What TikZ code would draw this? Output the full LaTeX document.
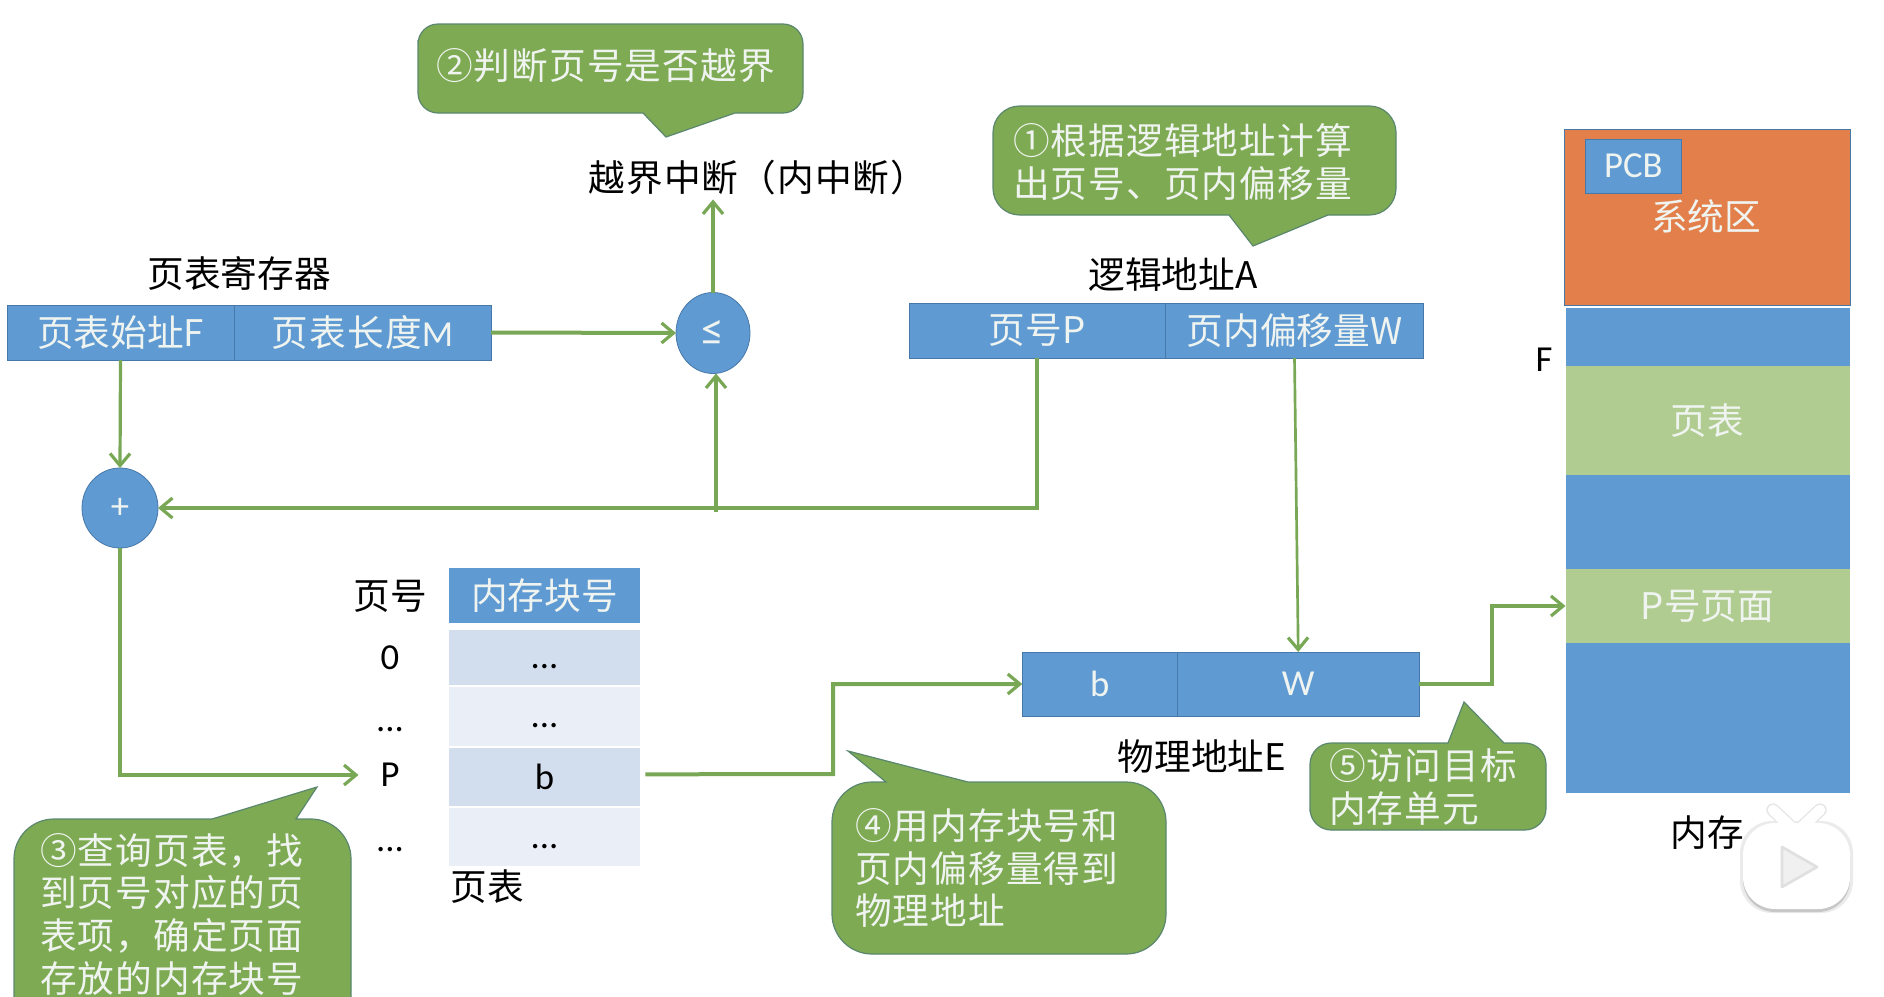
\documentclass[tikz,border=0pt]{standalone}
\usepackage{fontspec}
\setmainfont{Carlito}
\newfontfamily\cjk{Noto Sans CJK SC}
\newfontfamily\cjkwide[LetterSpace=3]{Noto Sans CJK SC}
\usetikzlibrary{arrows.meta,shapes.geometric}

\definecolor{cellblue}{RGB}{95,155,210}
\definecolor{celledge}{RGB}{70,120,170}
\definecolor{flowgreen}{RGB}{120,168,85}
\definecolor{talkgreen}{RGB}{125,170,82}
\definecolor{talkedge}{RGB}{90,135,110}
\definecolor{sysorange}{RGB}{226,127,74}
\definecolor{palegreen}{RGB}{176,204,144}
\definecolor{rowdark}{RGB}{210,222,238}
\definecolor{rowpale}{RGB}{233,238,247}
\definecolor{softwhite}{RGB}{240,244,240}

\tikzset{
  every picture/.style={line width=0.75pt},
  every node/.style={inner sep=0pt,outer sep=0pt,font=\fontsize{27.5}{32}\selectfont},
  cell/.style={draw=celledge,fill=cellblue,text=softwhite,line width=0.6pt},
  memcell/.style={fill=cellblue,text=softwhite,minimum width=213pt},
  memgreen/.style={fill=palegreen,text=softwhite,minimum width=213pt},
  row/.style={minimum width=143.25pt,minimum height=41.5pt},
  dotrow/.style={row,text height=22pt,text depth=5pt},
  op/.style={ellipse,draw=celledge,fill=cellblue,text=softwhite,line width=0.6pt},
  flow/.style={draw=flowgreen,line width=3pt,-{Straight Barb[length=9pt,width=15pt,line width=2.4pt]}},
  talk/.style={draw=talkedge,fill=talkgreen,line width=0.9pt},
  talktext/.style={text=softwhite,align=left,anchor=west},
}

\begin{document}
\begin{tikzpicture}[x=0.75pt,y=0.75pt,yscale=-1]
\useasboundingbox (0,0) rectangle (1884,996);
\clip (0,0) rectangle (1884,996);

% page table register
\node (regF) [cell,minimum width=170.25pt,minimum height=41.25pt] at (120.5,332.5) {\cjk 页表始址F};
\node (regM) [cell,minimum width=192.75pt,minimum height=41.25pt] at (362.5,332.5) {\cjkwide 页表长度\rmfamily M};
\node (regname) at (239,274) {\cjk 页表寄存器};

% comparator and adder
\node (cmp) [op,minimum width=55.5pt,minimum height=60.75pt,font=\fontsize{34}{36}\selectfont] at (713,333) {≤};
\node (adder) [op,minimum width=57pt,minimum height=60pt] at (120,508) {+};
\node (oob) at (758,178) {\cjkwide 越界中断（内中断）};

% logical address
\node (pageno) [cell,minimum width=192.4pt,minimum height=41.25pt] at (1037.25,330.5) {\cjk 页号P};
\node (offw) [cell,minimum width=193.5pt,minimum height=41.25pt] at (1294.5,330.5) {\cjk 页内偏移量W};
\node (logname) at (1173,275) {\cjk 逻辑地址A};

% page table
\node (colno) at (390,596) {\cjk 页号};
\node (colhead) [fill=cellblue,text=softwhite,row] at (544.5,595.5) {\cjk 内存块号};
\node (row0) [fill=rowdark,dotrow] at (544.5,657.5) {...};
\node (row1) [fill=rowpale,dotrow,minimum height=44.25pt] at (544.5,716.5) {...};
\node (rowb) [fill=rowdark,row,minimum height=43.5pt] at (544.5,777) {b};
\node (row3) [fill=rowpale,dotrow,minimum height=43.5pt] at (544.5,837) {...};
\node (no0) at (390,658) {0};
\node (no1) at (390,730) {...};
\node (noP) at (390,775) {P};
\node (no3) at (390,850) {...};
\node (tabname) at (487,887) {\cjk 页表};

% physical address
\node (phyb) [cell,minimum width=116.25pt,minimum height=48pt] at (1099.75,684) {b};
\node (phyw) [cell,minimum width=181.5pt,minimum height=48pt] at (1298.25,684) {W};
\node (phyname) at (1202,757) {\cjk 物理地址E};

% memory
\node (memsys) [fill=sysorange,draw=celledge,line width=0.5pt,minimum width=214.5pt,minimum height=132pt] at (1707,217) {};
\node (pcb) [cell,minimum width=72.4pt,minimum height=40.5pt] at (1633.25,166) {PCB};
\node at (1706,216) [text=softwhite] (sysname) {\cjk 系统区};
\node (mem1) [memcell,minimum height=44.25pt] at (1707.5,337) {};
\node (memtab) [memgreen,minimum height=81.75pt] at (1707.5,420.5) {\cjk 页表};
\node (mem2) [memcell,minimum height=70.5pt] at (1707.5,522) {};
\node (memP) [memgreen,minimum height=55.5pt] at (1707.5,606) {\cjk P号页面};
\node (mem3) [memcell,minimum height=112.5pt] at (1707.5,718) {};
\node (memF) at (1544,360) {F};
\node (memname) at (1707,833) {\cjk 内存};

% connectors
\coordinate (tee) at (716,512);
\coordinate (bturn) at (833,774);
\coordinate (outturn) at (1492,684);
\draw [flow] (regM.east) -- (cmp.west);
\draw [flow,shorten >=3pt] (cmp.north) -- (cmp.north |- oob.south);
\draw [flow,line width=2.4pt] (regF.south) -- (adder.north);
\draw [flow] (pageno.south) |- (adder.east);
\draw [flow,line width=2.4pt] (tee) -- (tee |- cmp.south);
\draw [flow,line width=2pt] (offw.south) -- (phyw.north);
\draw [flow,shorten >=16.5pt] (adder.south) |- (noP.west);
\draw [flow] ([xshift=4pt,yshift=-2pt]rowb.east) -- (bturn) |- (phyb.west);
\draw [flow] (phyw.east) -- (outturn) |- (memP.west);

% callouts
\draw [talk] (418,60) [rounded corners=15pt] -- (418,24) -- (803,24) -- (803,113) [sharp corners] -- (735,113) -- (666,137) -- (643,113) [rounded corners=15pt] -- (418,113) -- cycle ;
\node (talkB) [talktext] at (436,66) {\cjkwide ②判断页号是否越界};

\draw [talk] (993,160) [rounded corners=20pt] -- (993,106) -- (1396,106) -- (1396,215) [sharp corners] -- (1328,215) -- (1253,246) -- (1229,215) [rounded corners=20pt] -- (993,215) -- cycle ;
\node (talkA) [talktext] at (1013,162) {\cjkwide ①根据逻辑地址计算\\\cjkwide 出页号、页内偏移量};

\draw [talk] (14,900) [rounded corners=30pt] -- (14,819) [sharp corners] -- (212,819) -- (317,787) -- (296,819) [rounded corners=30pt] -- (351,819) -- (351,1040) -- (14,1040) -- cycle ;
\node (talkC) [talktext] at (40,914) {\cjkwide ③查询页表，找\\\cjkwide 到页号对应的页\\\cjkwide 表项，确定页面\\\cjkwide 存放的内存块号};

\draw [talk] (832,860) [rounded corners=30pt] -- (832,782) [sharp corners] -- (886,782) -- (848,751) -- (968,782) [rounded corners=30pt] -- (1166,782) -- (1166,954) -- (832,954) -- cycle ;
\node (talkD) [talktext] at (855,868) {\cjkwide ④用内存块号和\\\cjkwide 页内偏移量得到\\\cjkwide 物理地址};

\draw [talk] (1310,790) [rounded corners=16pt] -- (1310,743) [sharp corners] -- (1448,743) -- (1464,702) -- (1504,743) [rounded corners=16pt] -- (1546,743) -- (1546,830) -- (1310,830) -- cycle ;
\node (talkE) [talktext] at (1329,787) {\cjkwide ⑤访问目标\\\cjkwide 内存单元};

% player badge
\draw [black!10,line width=10pt,line cap=round] (1773,810) -- (1790,826) (1820,810) -- (1803,826);
\fill [black!8,rounded corners=24pt] (1740,821) rectangle (1853,913);
\fill [black!22,rounded corners=24pt] (1743,826) rectangle (1850,912);
\draw [white,line width=8pt,line cap=round] (1773,810) -- (1790,826) (1820,810) -- (1803,826);
\fill [white,rounded corners=24pt] (1743,823) rectangle (1850,909);
\draw [fill=black!6,draw=black!12,line join=round,line width=2pt] (1782,847) -- (1817,867) -- (1782,887) -- cycle;

\end{tikzpicture}
\end{document}
